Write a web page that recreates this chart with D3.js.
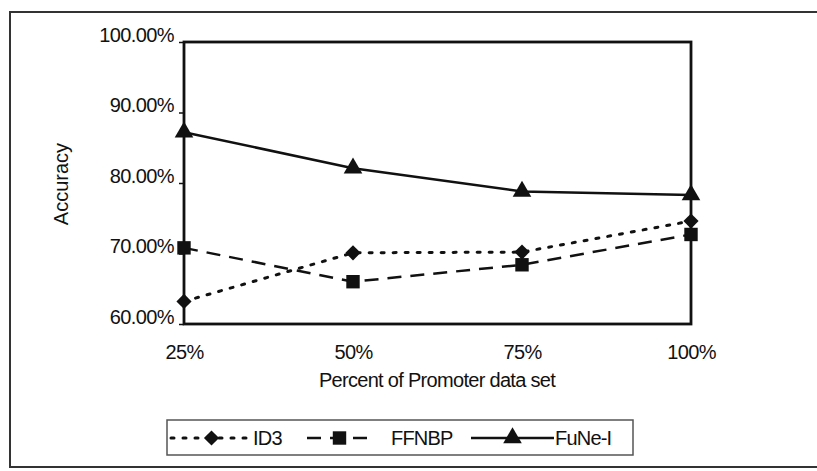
<!DOCTYPE html>
<html>
<head>
<meta charset="utf-8">
<script src="https://cdn.jsdelivr.net/npm/d3@7"></script>
<style>
    body { margin: 0; background: #fff; }
    text { font-family: Arial, "Liberation Sans", sans-serif; fill: #111; }
</style>
</head>
<body>
<svg xmlns="http://www.w3.org/2000/svg" width="817" height="471" class="chart"></svg>
<script>
const CATEGORIES = ['25%', '50%', '75%', '100%'];
const Y_TICKS = [60, 70, 80, 90, 100];
const ID3 = [63.2, 70.1, 70.2, 74.6];
const FFNBP = [70.8, 66.0, 68.4, 72.7];
const FUNE = [87.2, 82.1, 78.8, 78.3];
const SERIES_NAMES = ['ID3', 'FFNBP', 'FuNe-I'];

const svg = d3.select('.chart');

// outer frame of the scanned figure (right edge is off the page)
svg.append('rect')
    .attr('x', 10).attr('y', 12)
    .attr('width', 830).attr('height', 455)
    .attr('fill', 'none')
    .attr('stroke', '#333')
    .attr('stroke-width', 2);

const xScale = d3.scalePoint()
    .domain(CATEGORIES)
    .range([184, 691]);
const yScale = d3.scaleLinear()
    .domain([60, 100])
    .range([324, 42]);

// axes
const yAxis = d3.axisLeft(yScale)
    .tickValues(Y_TICKS)
    .tickSize(5)
    .tickFormat(d => d.toFixed(2) + '%');
const gy = svg.append('g')
    .attr('transform', `translate(${xScale.range()[0]},0)`)
    .call(yAxis);
gy.select('.domain').remove();
gy.selectAll('.tick line').attr('stroke', '#111').attr('stroke-width', 1.5);
gy.selectAll('.tick text')
    .attr('x', -10)
    .attr('dy', '-0.05em')
    .style('font-size', '20px')
    .style('letter-spacing', '-0.6px');

const xAxis = d3.axisBottom(xScale).tickSize(0).tickPadding(21);
const gx = svg.append('g')
    .attr('transform', `translate(0,${yScale(60)})`)
    .call(xAxis);
gx.select('.domain').remove();
gx.selectAll('.tick text').style('font-size', '20px').style('letter-spacing', '-0.6px');

// plot border
svg.append('rect')
    .attr('x', xScale.range()[0]).attr('y', yScale(100))
    .attr('width', xScale.range()[1] - xScale.range()[0])
    .attr('height', yScale(60) - yScale(100))
    .attr('fill', 'none')
    .attr('stroke', '#111')
    .attr('stroke-width', 2.8);

svg.append('text')
    .attr('x', 437).attr('y', 387)
    .attr('text-anchor', 'middle')
    .style('font-size', '20px')
    .style('letter-spacing', '-0.7px')
    .text('Percent of Promoter data set');

svg.append('text')
    .attr('transform', 'translate(68,184) rotate(-90)')
    .attr('text-anchor', 'middle')
    .style('font-size', '20px')
    .text('Accuracy');

// series
const styles = [
    {data: ID3, dash: '3,9', width: 3, cap: 'round', symbol: d3.symbolSquare, size: 115, rot: 45},
    {data: FFNBP, dash: '14,9', width: 2.5, cap: 'butt', symbol: d3.symbolSquare, size: 180, rot: 0},
    {data: FUNE, dash: null, width: 2.5, cap: 'butt', symbol: d3.symbolTriangle, size: 150, rot: 0}
];

const line = d3.line()
    .x((d, i) => xScale(CATEGORIES[i]))
    .y(d => yScale(d));

for (const s of styles) {
    svg.append('path')
        .attr('d', line(s.data))
        .attr('fill', 'none')
        .attr('stroke', '#111')
        .attr('stroke-width', s.width)
        .attr('stroke-linecap', s.cap)
        .attr('stroke-dasharray', s.dash);
    svg.append('g')
        .selectAll('path')
        .data(s.data)
        .enter()
        .append('path')
        .attr('transform', (d, i) => `translate(${xScale(CATEGORIES[i])},${yScale(d)}) rotate(${s.rot})`)
        .attr('d', d3.symbol().type(s.symbol).size(s.size))
        .attr('fill', '#111');
}

// legend
const legend = svg.append('g');
legend.append('rect')
    .attr('x', 167).attr('y', 420)
    .attr('width', 466).attr('height', 35)
    .attr('fill', 'none')
    .attr('stroke', '#555')
    .attr('stroke-width', 1.5);

const legendItems = [
    {x0: 171, x1: 252, tx: 253},
    {x0: 307, x1: 372, tx: 391},
    {x0: 471, x1: 554, tx: 555}
];
legendItems.forEach((item, k) => {
    const s = styles[k];
    legend.append('line')
        .attr('x1', item.x0).attr('x2', item.x1)
        .attr('y1', 438).attr('y2', 438)
        .attr('stroke', '#111')
        .attr('stroke-width', s.width)
        .attr('stroke-linecap', s.cap)
        .attr('stroke-dasharray', s.dash);
    legend.append('path')
        .attr('transform', `translate(${(item.x0 + item.x1) / 2},438) rotate(${s.rot})`)
        .attr('d', d3.symbol().type(s.symbol).size(s.size))
        .attr('fill', '#111');
    legend.append('text')
        .attr('x', item.tx).attr('y', 445)
        .style('font-size', '20px')
        .style('letter-spacing', '-0.8px')
        .text(SERIES_NAMES[k]);
});
</script>
</body>
</html>
